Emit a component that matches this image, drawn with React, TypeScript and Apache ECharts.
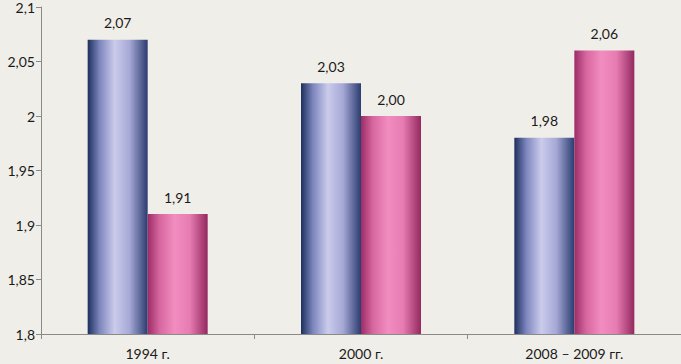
import React, { useEffect, useRef } from "react";
import * as echarts from "echarts";

const categories = ["1994 г.", "2000 г.", "2008 – 2009 гг."];
const seriesA = [2.07, 2.03, 1.98];
const seriesB = [1.91, 2.0, 2.06];
const yMin = 1.8;
const yMax = 2.1;
const yStep = 0.05;

const fmt = (v: number, d?: number) => {
  const r = Math.round(v * 100) / 100;
  return (d !== undefined ? r.toFixed(d) : String(r)).replace(".", ",");
};

const blueGrad = new echarts.graphic.LinearGradient(0, 0, 1, 0, [
  { offset: 0, color: "#1c2f5e" },
  { offset: 0.2, color: "#7d86bd" },
  { offset: 0.45, color: "#cbcbeb" },
  { offset: 0.7, color: "#a6a8d6" },
  { offset: 1, color: "#2a3c70" },
]);
const pinkGrad = new echarts.graphic.LinearGradient(0, 0, 1, 0, [
  { offset: 0, color: "#9c2c66" },
  { offset: 0.2, color: "#d7679f" },
  { offset: 0.45, color: "#f28dc0" },
  { offset: 0.7, color: "#e67cb2" },
  { offset: 1, color: "#93295f" },
]);

export default function App() {
  const ref = useRef<HTMLDivElement>(null);
  useEffect(() => {
    document.body.style.margin = "0";
    const chart = echarts.init(ref.current!, null, { renderer: "svg" });
    const label = {
      show: true,
      position: "top",
      distance: 10,
      color: "#1a1a1a",
      fontSize: 14,
      fontFamily: "Lato",
      formatter: (p: any) => fmt(p.value, 2),
    };
    chart.setOption({
      animation: false,
      backgroundColor: "#f0eee8",
      grid: { left: 41, right: 0, top: 6, bottom: 30 },
      xAxis: {
        type: "category",
        data: categories,
        axisLine: { lineStyle: { color: "#8a8a8a" } },
        axisTick: { show: true, length: 5, lineStyle: { color: "#8a8a8a" } },
        axisLabel: { color: "#1a1a1a", fontSize: 14, fontFamily: "Lato", margin: 12 },
      },
      yAxis: {
        type: "value",
        min: yMin,
        max: yMax,
        interval: yStep,
        splitLine: { show: false },
        axisLine: { show: true, lineStyle: { color: "#8a8a8a" } },
        axisTick: { show: true, length: 5, lineStyle: { color: "#8a8a8a" } },
        axisLabel: {
          color: "#1a1a1a",
          fontSize: 14,
          fontFamily: "Lato",
          margin: 6,
          formatter: (v: number) => fmt(v),
        },
      },
      series: [
        {
          type: "bar",
          data: seriesA,
          barWidth: 60,
          barGap: "0%",
          itemStyle: { color: blueGrad },
          label,
        },
        {
          type: "bar",
          data: seriesB,
          barWidth: 60,
          barGap: "0%",
          itemStyle: { color: pinkGrad },
          label,
        },
      ],
    });
    return () => chart.dispose();
  }, []);
  return <div ref={ref} style={{ width: 681, height: 364 }} />;
}
